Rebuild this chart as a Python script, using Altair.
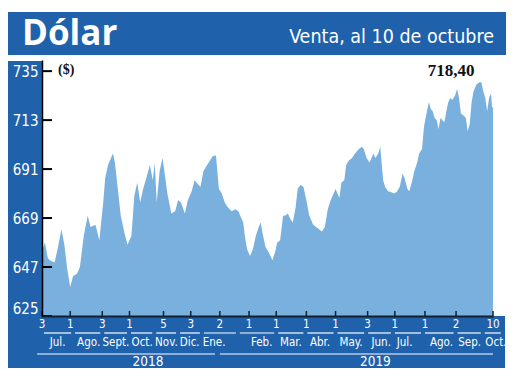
import altair as alt
import pandas as pd

# ---------------- data ----------------
dates_2018 = ["2018-07-03","2018-07-06","2018-07-09","2018-07-11","2018-07-16","2018-07-19","2018-07-23",
              "2018-07-26","2018-07-29","2018-08-01","2018-08-04","2018-08-08","2018-08-11","2018-08-15",
              "2018-08-19","2018-08-22","2018-08-27","2018-08-31","2018-09-04","2018-09-06","2018-09-09",
              "2018-09-12","2018-09-14","2018-09-16","2018-09-19","2018-09-22","2018-09-26","2018-09-29",
              "2018-10-03","2018-10-06","2018-10-09","2018-10-12","2018-10-15","2018-10-19","2018-10-22",
              "2018-10-25","2018-10-27","2018-10-29","2018-11-01","2018-11-04","2018-11-09","2018-11-13",
              "2018-11-17","2018-11-20","2018-11-23","2018-11-27","2018-11-30","2018-12-04","2018-12-07",
              "2018-12-13","2018-12-16","2018-12-20","2018-12-23","2018-12-26","2018-12-29"]
values_2018 = [654,658,651,650,649,655,664,
               657,646,638,643,644,647,661,
               670,665,666,659,676,687,693,
               696,698,694,682,670,662,657,
               661,679,685,676,682,688,693,
               686,694,676,690,696,680,671,
               672,677,676,671,677,681,686,
               683,690,693,695,697,697]

dates_2019 = ["2019-01-01","2019-01-04","2019-01-07","2019-01-10","2019-01-14","2019-01-18","2019-01-21",
              "2019-01-24","2019-01-26","2019-01-28","2019-01-30","2019-02-02","2019-02-05","2019-02-08",
              "2019-02-11","2019-02-13","2019-02-15","2019-02-18","2019-02-22","2019-02-25","2019-02-28",
              "2019-03-02","2019-03-05","2019-03-08","2019-03-10","2019-03-13","2019-03-15","2019-03-18",
              "2019-03-21","2019-03-23","2019-03-26","2019-03-29","2019-04-01","2019-04-04","2019-04-08",
              "2019-04-11","2019-04-14","2019-04-17","2019-04-20","2019-04-23","2019-04-26","2019-04-29",
              "2019-05-01","2019-05-05","2019-05-07","2019-05-10","2019-05-12","2019-05-15","2019-05-18",
              "2019-05-21","2019-05-25","2019-05-28","2019-05-30","2019-06-02","2019-06-05","2019-06-09",
              "2019-06-11","2019-06-14","2019-06-16","2019-06-19","2019-06-21","2019-06-24","2019-06-27",
              "2019-06-30","2019-07-03","2019-07-06","2019-07-09","2019-07-11","2019-07-14","2019-07-16",
              "2019-07-19","2019-07-21","2019-07-24","2019-07-26","2019-07-29","2019-07-31","2019-08-03",
              "2019-08-05","2019-08-07","2019-08-09","2019-08-11","2019-08-13","2019-08-15","2019-08-17",
              "2019-08-21","2019-08-23","2019-08-25","2019-08-27","2019-08-29","2019-09-01","2019-09-03",
              "2019-09-05","2019-09-07","2019-09-10","2019-09-12","2019-09-14","2019-09-16","2019-09-18",
              "2019-09-20","2019-09-23","2019-09-26","2019-09-28","2019-09-30","2019-10-02","2019-10-04",
              "2019-10-06","2019-10-08","2019-10-09","2019-10-10"]
values_2019 = [682,680,676,674,672,673,672,
               669,667,660,655,652,655,661,
               665,667,662,656,653,650,654,
               658,659,670,670,671,669,667,
               674,682,684,683,677,670,666,
               665,664,663,665,673,677,680,
               682,678,685,686,693,695,696,
               698,700,701,700,696,694,698,
               696,698,701,686,683,681,680.7,
               680,680.7,683,689,687,682,681,
               686,690,694,698,700,710,717,
               721,718,717,714,713,709,714,
               712,717,721,723,722,724,727,
               723,716,715,714,708,711,721,
               726,729,730,730,726,723,717,
               723,725,719,718.4]

tick_dates = ["2018-07-03","2018-08-01","2018-09-03","2018-10-01","2018-11-05","2018-12-03",
              "2019-01-02","2019-02-01","2019-03-01","2019-04-01","2019-05-01","2019-06-03",
              "2019-07-01","2019-08-01","2019-09-02","2019-10-10"]
month_names = ["Jul.","Ago.","Sept.","Oct.","Nov.","Dic.","Ene.","Feb.","Mar.","Abr.",
               "May.","Jun.","Jul.","Ago.","Sep.","Oct."]
month_label_dates = ["2018-07-19","2018-08-20","2018-09-17","2018-10-14","2018-11-08","2018-12-02",
                     "2018-12-27","2019-02-14","2019-03-16","2019-04-15","2019-05-17","2019-06-17",
                     "2019-07-11","2019-08-18","2019-09-16","2019-10-13"]
year_names = ["2018", "2019"]
year_label_dates = ["2018-10-20", "2019-06-11"]
year_line_starts = ["2018-06-28", "2019-01-02"]
year_line_ends = ["2018-12-28", "2019-10-10"]
y_tick_values = [625, 647, 669, 691, 713, 735]

title_text = "Dólar"
subtitle_text = "Venta, al 10 de octubre"
unit_text = "($)"
last_value_label = "718,40"

# ---------------- style ----------------
BLUE = "#1F61AB"
FILL = "#79B0DE"
NARROW = "DejaVu Sans Condensed, sans-serif"
SERIF = "Liberation Serif, DejaVu Serif, serif"
W, H = 451, 256

# ---------------- tables ----------------
df = pd.DataFrame({"fecha": pd.to_datetime(dates_2018 + dates_2019),
                   "venta": values_2018 + values_2019})
ticks_df = pd.DataFrame({"fecha": pd.to_datetime(tick_dates)})
ticks_df["dia"] = ticks_df["fecha"].dt.day.astype(str)
months_df = pd.DataFrame({"fecha": pd.to_datetime(month_label_dates), "mes": month_names})
md = list(months_df["fecha"])
bounds = [md[0] - (md[1] - md[0]) / 2] + \
         [md[i] + (md[i + 1] - md[i]) / 2 for i in range(len(md) - 1)] + \
         [md[-1] + pd.Timedelta(days=7)]
seg_df = pd.DataFrame({"fecha": bounds[:-1], "fin": bounds[1:]})
years_df = pd.DataFrame({"fecha": pd.to_datetime(year_label_dates), "anio": year_names})
yline_df = pd.DataFrame({"fecha": pd.to_datetime(year_line_starts), "fin": pd.to_datetime(year_line_ends)})
yt_df = pd.DataFrame({"venta": y_tick_values})

x0 = pd.Timestamp(tick_dates[0])
x1 = pd.Timestamp(tick_dates[-1])
xscale = alt.Scale(domain=[alt.DateTime(year=x0.year, month=x0.month, date=x0.day),
                           alt.DateTime(year=x1.year, month=x1.month, date=x1.day)])
yscale = alt.Scale(domain=[625, 740], nice=False, zero=False)

one = alt.Data(values=[{}])

def rect(x, x2, y, y2):
    return alt.Chart(one).mark_rect(color=BLUE).encode(
        x=alt.value(x), x2=alt.value(x2), y=alt.value(y), y2=alt.value(y2))

banner = rect(-34, 464, -48, -5)
left_col = rect(-34, 0, 1, 256)
bottom_band = rect(-34, 463, 256, 310)

area = alt.Chart(df).mark_area(color=FILL).encode(
    x=alt.X("fecha:T", scale=xscale, title=None,
            axis=alt.Axis(labels=False, ticks=False, grid=False,
                          domainColor="#15202e", domainWidth=2, zindex=1)),
    y=alt.Y("venta:Q", scale=yscale, title=None,
            axis=alt.Axis(values=y_tick_values, ticks=False, grid=False,
                          labelColor="white", labelFont=NARROW, labelFontSize=15,
                          labelPadding=4, labelFlush=True, labelOverlap=False,
                          domainColor="black", domainWidth=1.5, zindex=1)),
    y2=alt.datum(625),
)

y_ticks = alt.Chart(yt_df).mark_rule(color="black", strokeWidth=2).encode(
    y=alt.Y("venta:Q", scale=yscale, title=None),
    x=alt.value(0), x2=alt.value(10))

x_ticks = alt.Chart(ticks_df).mark_rule(color="#15202e", strokeWidth=1.5).encode(
    x=alt.X("fecha:T", scale=xscale, title=None),
    y=alt.value(251), y2=alt.value(256))

tick_text = alt.Chart(ticks_df).mark_text(color="white", font=NARROW, fontSize=11.5,
                                          baseline="middle").encode(
    x=alt.X("fecha:T", scale=xscale, title=None), y=alt.value(265), text="dia:N")

segs = alt.Chart(seg_df).mark_rule(color="white", strokeWidth=1.2, xOffset=2, x2Offset=-2).encode(
    x=alt.X("fecha:T", scale=xscale, title=None), x2="fin:T", y=alt.value(273))

month_text = alt.Chart(months_df).mark_text(color="white", font=NARROW, fontSize=11.5,
                                            baseline="middle").encode(
    x=alt.X("fecha:T", scale=xscale, title=None), y=alt.value(283), text="mes:N")

year_lines = alt.Chart(yline_df).mark_rule(color="white", strokeWidth=1.2).encode(
    x=alt.X("fecha:T", scale=xscale, title=None), x2="fin:T", y=alt.value(294))

year_text = alt.Chart(years_df).mark_text(color="white", font=NARROW, fontSize=13.5,
                                          baseline="middle").encode(
    x=alt.X("fecha:T", scale=xscale, title=None), y=alt.value(302), text="anio:N")

title = alt.Chart(one).mark_text(text=title_text, color="white", font="Open Sans",
                                 fontWeight="bold", fontSize=35, align="left",
                                 baseline="alphabetic").encode(x=alt.value(-20), y=alt.value(-15))
subtitle = alt.Chart(one).mark_text(text=subtitle_text, color="white", font=NARROW,
                                    fontSize=19.5, align="right",
                                    baseline="alphabetic").encode(x=alt.value(452), y=alt.value(-17))
unit = alt.Chart(one).mark_text(text=unit_text, color="#111111", font=SERIF, fontWeight="bold",
                                fontSize=14, align="left",
                                baseline="middle").encode(x=alt.value(16), y=alt.value(10))
last_lbl = alt.Chart(one).mark_text(text=last_value_label, color="#111111", font=SERIF,
                                    fontWeight="bold", fontSize=17, align="center",
                                    baseline="middle").encode(x=alt.value(409), y=alt.value(11))

chart = alt.layer(
    banner, left_col, bottom_band, area, y_ticks, x_ticks, tick_text, segs, month_text,
    year_lines, year_text, title, subtitle, unit, last_lbl
).properties(
    width=W, height=H,
    padding={"left": 34, "top": 52, "right": 19, "bottom": 52},
    autosize=alt.AutoSizeParams(type="none"),
    background="white",
).configure_view(stroke=None)

chart.save("out.html", embed_options={"renderer": "svg", "actions": False})
